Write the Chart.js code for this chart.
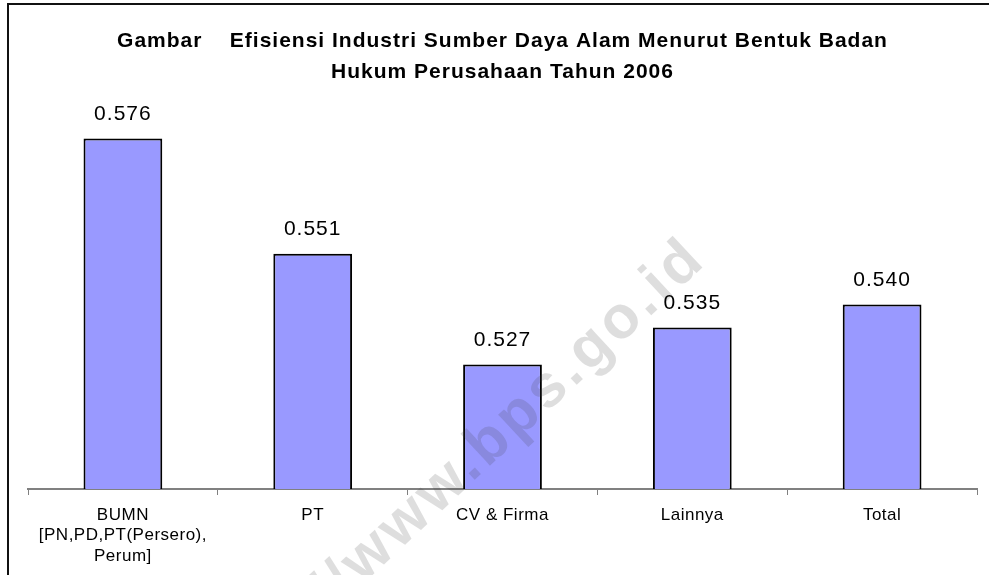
<!DOCTYPE html>
<html>
<head>
<meta charset="utf-8">
<script src="https://cdn.jsdelivr.net/npm/chart.js@4"></script>
<style>
  html, body { margin: 0; padding: 0; background: #fff; }
  canvas { display: block; }
</style>
</head>
<body>
<canvas id="c" width="989" height="575"></canvas>
<script>
const categories = [['BUMN', '[PN,PD,PT(Persero),', 'Perum]'], 'PT', 'CV & Firma', 'Lainnya', 'Total'];
const values = [0.576, 0.551, 0.527, 0.535, 0.540];
const valueLabels = ['0.576', '0.551', '0.527', '0.535', '0.540'];
const titleLines = ['Gambar    Efisiensi Industri Sumber Daya Alam Menurut Bentuk Badan', 'Hukum Perusahaan Tahun 2006'];
const watermarkText = 'http://www.bps.go.id';

const FONT = '"Liberation Sans", Arial, sans-serif';

const decorPlugin = {
  id: 'decor',
  beforeDraw(chart) {
    const ctx = chart.ctx;
    const ca = chart.chartArea;
    ctx.save();
    // frame
    ctx.fillStyle = '#111';
    ctx.fillRect(7, 3, 989, 2);
    ctx.fillRect(7, 3, 2, 575);
    // title
    ctx.fillStyle = '#000';
    ctx.font = 'bold 21px ' + FONT;
    ctx.letterSpacing = '1px';
    ctx.textAlign = 'center';
    ctx.textBaseline = 'alphabetic';
    const cx = (ca.left + ca.right) / 2;
    ctx.fillText(titleLines[0], cx, 47);
    ctx.fillText(titleLines[1], cx, 78);
    ctx.restore();
    ctx.letterSpacing = '0.5px';
  },
  afterDatasetsDraw(chart) {
    const ctx = chart.ctx;
    const meta = chart.getDatasetMeta(0);
    ctx.save();
    // watermark
    ctx.translate(697, 250);
    ctx.rotate(-43 * Math.PI / 180);
    ctx.font = 'bold 60px ' + FONT;
    ctx.letterSpacing = '4px';
    ctx.textAlign = 'right';
    ctx.textBaseline = 'middle';
    ctx.fillStyle = 'rgba(60,60,60,0.17)';
    ctx.fillText(watermarkText, 0, 0);
    ctx.restore();
    ctx.save();
    ctx.font = '21px ' + FONT;
    ctx.letterSpacing = '1px';
    ctx.fillStyle = '#000';
    ctx.textAlign = 'center';
    ctx.textBaseline = 'alphabetic';
    meta.data.forEach((bar, i) => {
      ctx.fillText(valueLabels[i], bar.x, bar.y - 18.5);
    });
    ctx.restore();
  }
};

new Chart(document.getElementById('c'), {
  type: 'bar',
  data: {
    labels: categories,
    datasets: [{
      data: values,
      backgroundColor: '#9999FF',
      borderColor: '#000',
      borderWidth: 2,
      borderSkipped: false,
      categoryPercentage: 1,
      barPercentage: 0.415
    }]
  },
  options: {
    responsive: false,
    devicePixelRatio: 1,
    animation: false,
    layout: { padding: { top: 120, left: 28, right: 12, bottom: 0 } },
    plugins: {
      legend: { display: false },
      title: { display: false },
      tooltip: { enabled: false }
    },
    scales: {
      y: {
        display: false,
        min: 0.5,
        max: 0.58
      },
      x: {
        grid: {
          display: true,
          offset: true,
          drawOnChartArea: false,
          drawTicks: true,
          tickLength: 6,
          color: '#808080',
          lineWidth: 1
        },
        border: { display: true, color: '#808080', width: 2 },
        ticks: {
          color: '#000',
          font: { family: FONT, size: 17, lineHeight: 1.2 },
          padding: 10,
          maxRotation: 0,
          autoSkip: false
        },
        afterFit(scale) { scale.height = 86; }
      }
    }
  },
  plugins: [decorPlugin]
});
</script>
</body>
</html>
